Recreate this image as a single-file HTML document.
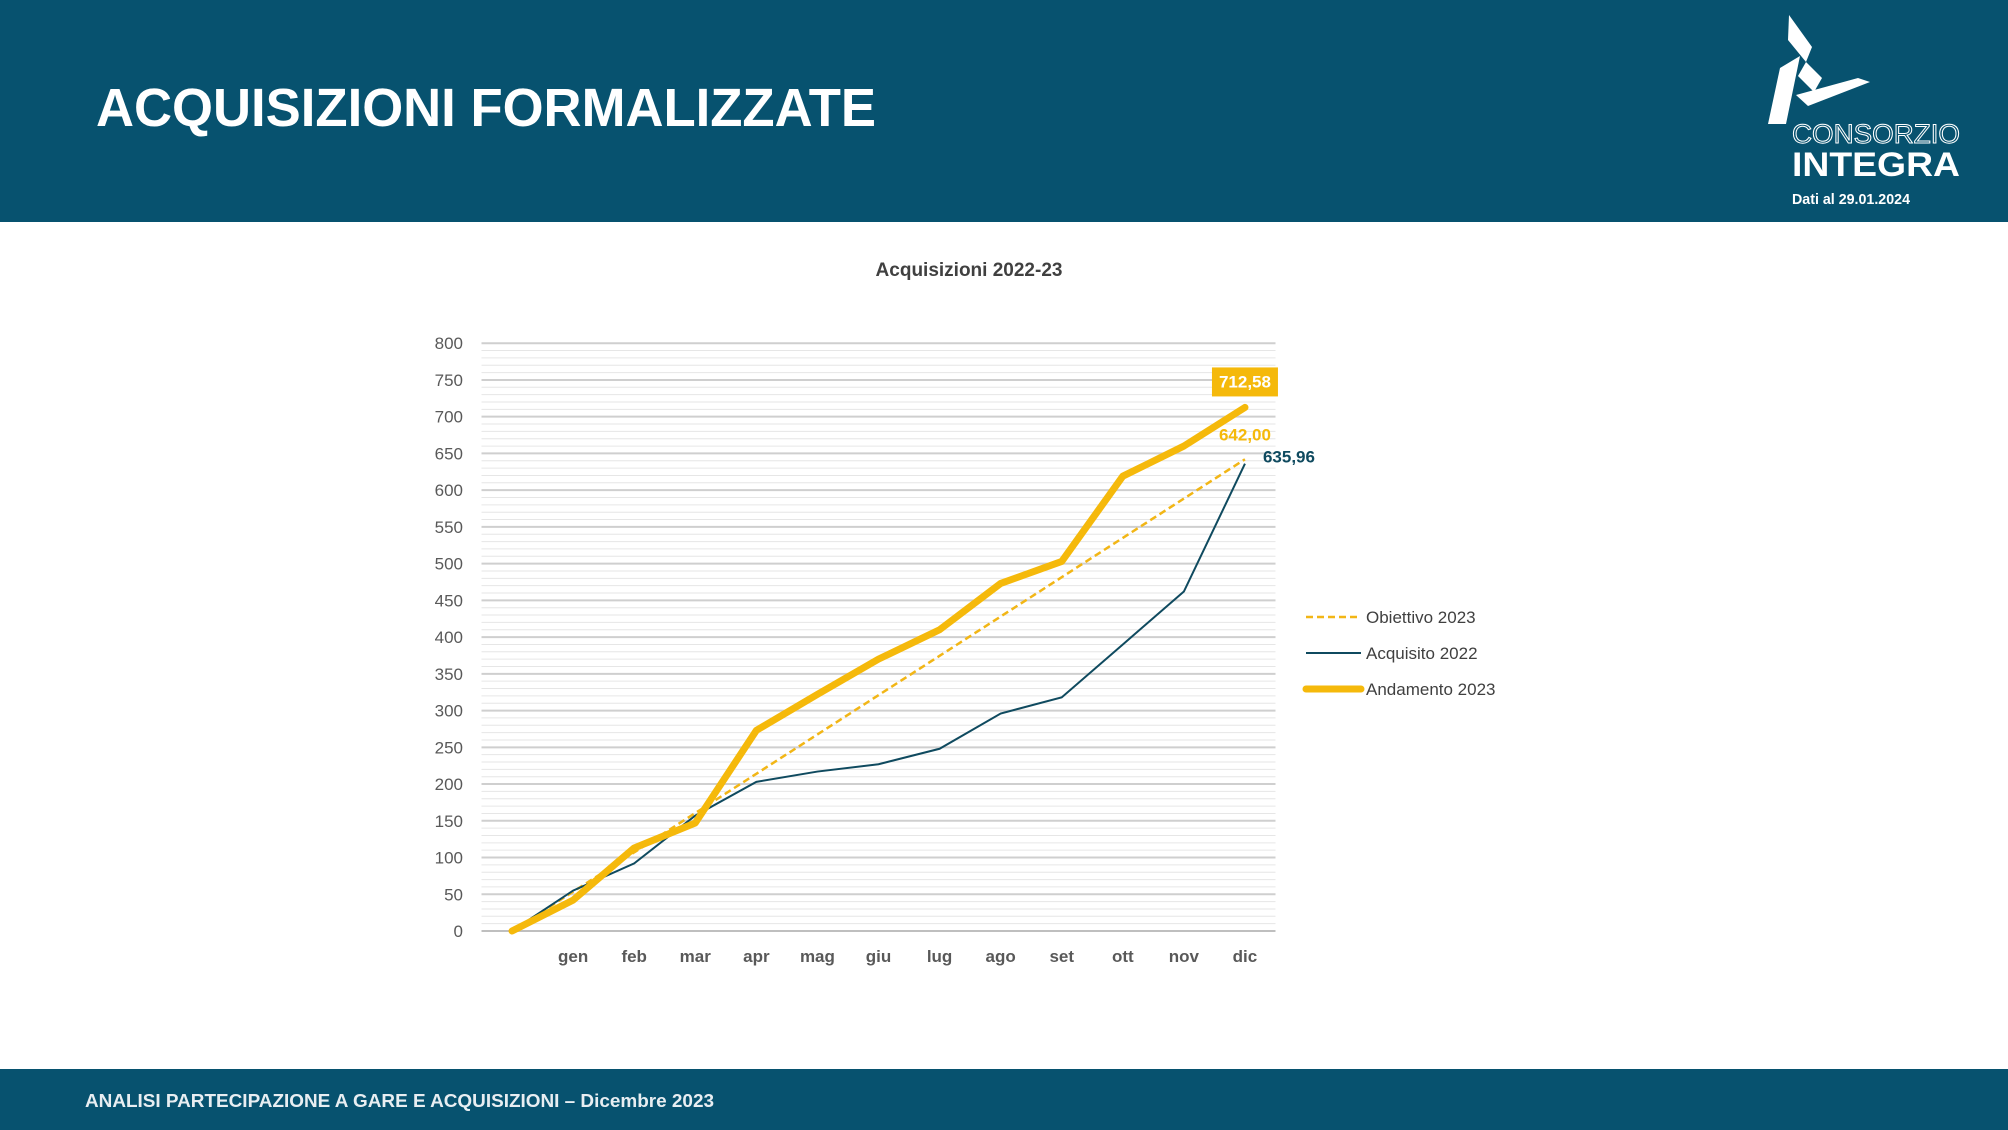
<!DOCTYPE html>
<html><head><meta charset="utf-8"><style>
html,body{margin:0;padding:0;background:#fff;}
svg{display:block;font-family:"Liberation Sans",sans-serif;}
</style></head><body>
<svg id="chart" width="2008" height="1130" viewBox="0 0 2008 1130" xmlns="http://www.w3.org/2000/svg">
<rect x="0" y="0" width="2008" height="222" fill="#07526f"/>
<text x="96" y="126" fill="#fff" font-size="54" font-weight="bold" textLength="780" lengthAdjust="spacingAndGlyphs">ACQUISIZIONI FORMALIZZATE</text>
<g fill="#fff">
<polygon points="1789,15 1812,47 1806,62 1788,40" />
<polygon points="1806,62 1822,78 1814,92 1798,76"/>
<polygon points="1800,56 1786,124 1768,124 1780,68"/>
<polygon points="1796,95 1858,78 1870,82 1808,106"/>
<text x="1792" y="143" font-size="27" fill="none" stroke="#fff" stroke-width="1" textLength="168" lengthAdjust="spacingAndGlyphs">CONSORZIO</text>
<text x="1792" y="176" font-size="34" font-weight="bold" textLength="168" lengthAdjust="spacingAndGlyphs">INTEGRA</text>
<text x="1792" y="204" font-size="15" font-weight="bold" textLength="118" lengthAdjust="spacingAndGlyphs">Dati al 29.01.2024</text>
</g>
<rect x="0" y="1069" width="2008" height="61" fill="#07526f"/>
<text x="85" y="1107" fill="#e8eef2" font-size="18" font-weight="bold" textLength="629" lengthAdjust="spacingAndGlyphs">ANALISI PARTECIPAZIONE A GARE E ACQUISIZIONI – Dicembre 2023</text>
<text x="969" y="276" text-anchor="middle" fill="#404040" font-size="19" font-weight="bold">Acquisizioni 2022-23</text>
<g id="grid"></g><g id="axes"></g><g id="series"></g>
<g font-size="17" fill="#404040">
<line x1="1306" y1="617" x2="1361" y2="617" stroke="#f2b616" stroke-width="2.5" stroke-dasharray="7,4"/>
<text x="1366" y="623">Obiettivo 2023</text>
<line x1="1306" y1="653" x2="1361" y2="653" stroke="#0f4a5f" stroke-width="2"/>
<text x="1366" y="659">Acquisito 2022</text>
<line x1="1306" y1="689" x2="1361" y2="689" stroke="#f5b90b" stroke-width="7" stroke-linecap="round"/>
<text x="1366" y="695">Andamento 2023</text>
</g>
</svg>
<script>
const categories = ["", "gen","feb","mar","apr","mag","giu","lug","ago","set","ott","nov","dic"];
const obiettivo2023 = [0,53.5,107,160.5,214,267.5,321,374.5,428,481.5,535,588.5,642];
const acquisito2022 = [0,55,92,157,203,217,227,248,296,318,390,462,635.96];
const andamento2023 = [0,42,113,147,273,322,370,410,473,503,619,660,712.58];
const yTicks = [0,50,100,150,200,250,300,350,400,450,500,550,600,650,700,750,800];
const NS="http://www.w3.org/2000/svg";
const X0=481.5,X1=1275.5,Y0=931,Y1=343.2,YMAX=800;
const band=(X1-X0)/categories.length;
const xs=i=>X0+band*(i+0.5);
const ys=v=>Y0-(v/YMAX)*(Y0-Y1);
function mk(tag,attrs,parent){const e=document.createElementNS(NS,tag);for(const k in attrs)e.setAttribute(k,attrs[k]);parent.appendChild(e);return e;}
const grid=document.getElementById('grid'),axes=document.getElementById('axes'),series=document.getElementById('series');
for(let v=0;v<=YMAX;v+=10){
  if(v%50===0)continue;
  const l=mk('line',{x1:X0,x2:X1,y1:ys(v),y2:ys(v),stroke:'#e6e6e6','stroke-width':1},grid);
  
  
}
yTicks.forEach(v=>{
  const l=mk('line',{x1:X0,x2:X1,y1:ys(v),y2:ys(v),stroke:v===0?'#bfbfbf':'#cfcfcf','stroke-width':2},grid);
  
  
  const t=mk('text',{x:463,y:ys(v)+6,'text-anchor':'end','font-size':17,fill:'#595959'},axes);
  t.textContent=v;
  
  
});
categories.forEach((c,i)=>{
  if(!c)return;
  const t=mk('text',{x:xs(i),y:962,'text-anchor':'middle','font-size':17,'font-weight':'bold',fill:'#595959'},axes);
  t.textContent=c;
  
  
});
const pts=a=>a.map((v,i)=>xs(i)+','+ys(v)).join(' ');
const p1=mk('polyline',{points:pts(obiettivo2023),fill:'none',stroke:'#f2b616','stroke-width':2.5,'stroke-dasharray':'7,4'},series);


const p2=mk('polyline',{points:pts(acquisito2022),fill:'none',stroke:'#0f4a5f','stroke-width':2},series);


const p3=mk('polyline',{points:pts(andamento2023),fill:'none',stroke:'#f5b90b','stroke-width':7,'stroke-linejoin':'round','stroke-linecap':'round'},series);


const n=categories.length-1;
const fmt=v=>v.toFixed(2).replace('.',',');
const lx=xs(n),ly=ys(andamento2023[n]);
const box=mk('rect',{x:lx-33,y:ly-40,width:66,height:29,fill:'#f5b90b'},series);


const t1=mk('text',{x:lx,y:ly-20,'text-anchor':'middle','font-size':17,'font-weight':'bold',fill:'#fff'},series);
t1.textContent=fmt(andamento2023[n]);


const t2=mk('text',{x:lx,y:ys(obiettivo2023[n])-19,'text-anchor':'middle','font-size':17,'font-weight':'bold',fill:'#f5b90b'},series);
t2.textContent=fmt(obiettivo2023[n]);


const t3=mk('text',{x:lx+18,y:ys(acquisito2022[n])-1,'font-size':17,'font-weight':'bold',fill:'#0f4a5f'},series);
t3.textContent=fmt(acquisito2022[n]);


</script>
</body></html>
